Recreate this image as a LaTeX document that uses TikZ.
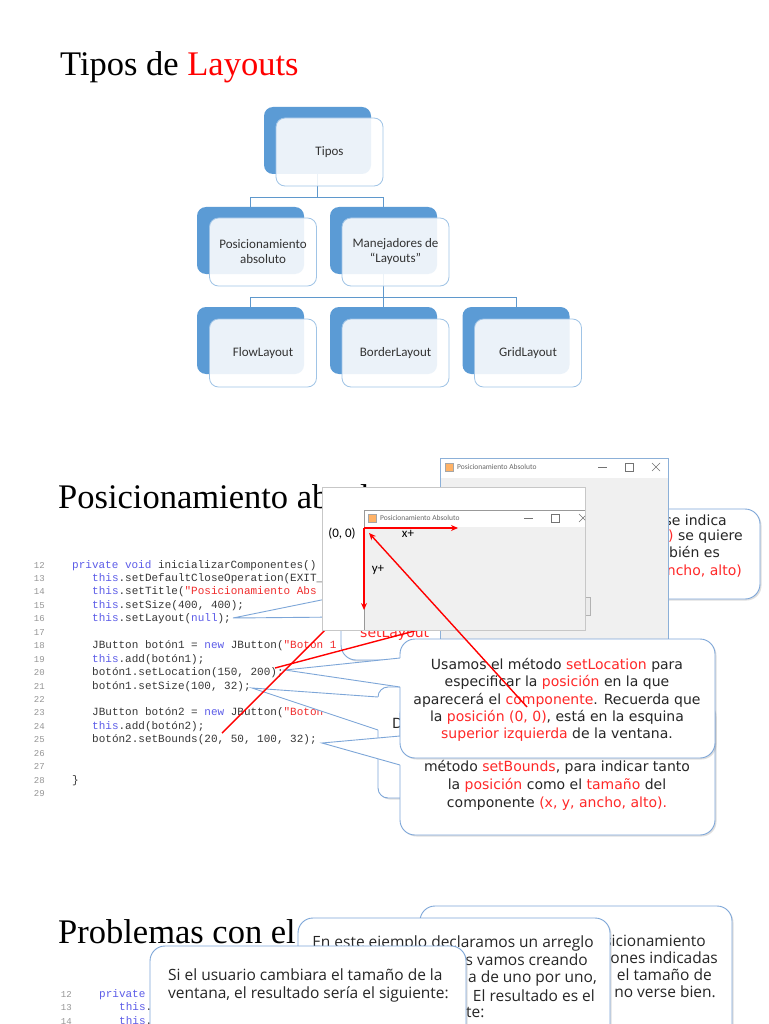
\documentclass[tikz,border=0pt]{standalone}
\usepackage{fontspec}
\setmainfont{Liberation Serif}
\newfontfamily\orgfont{Carlito}
\newfontfamily\codefont{Liberation Mono}
\newfontfamily\notefont{DejaVu Sans}
\newfontfamily\notefontb{Open Sans}
\usetikzlibrary{arrows.meta,shadows}

\definecolor{boxblue}{RGB}{91,155,213}
\definecolor{boxline}{RGB}{160,196,230}
\definecolor{calledge}{RGB}{125,166,216}
\definecolor{kwblue}{RGB}{92,92,232}
\definecolor{strred}{RGB}{240,45,45}
\definecolor{codegray}{RGB}{55,55,55}
\definecolor{numgray}{RGB}{150,150,150}
\definecolor{wingray}{RGB}{240,240,240}
\definecolor{winedge}{RGB}{140,176,216}
\definecolor{notered}{RGB}{255,40,40}

\newcommand\codekw[1]{\textcolor{kwblue}{#1}}
\newcommand\codestr[1]{\textcolor{strred}{#1}}
\newcommand\hl[1]{\textcolor{notered}{#1}}
% pointer of a callout: tip x, tip y, edge x, upper y, lower y
\newcommand\callptr[5]{%
  \fill[white] (#1,#2) -- (#3,#4) -- ({#3+2},#4) -- ({#3+2},#5) -- (#3,#5) -- cycle;
  \draw[ptrline] (#3,#4) -- (#1,#2) -- (#3,#5);}

\tikzset{
  backbox/.style={fill=boxblue, rounded corners=9pt, minimum width=107pt, minimum height=67pt, inner sep=0pt, outer sep=0pt},
  frontbox/.style={fill=white, fill opacity=0.88, text opacity=1, draw=boxline, line width=0.8pt,
    rounded corners=9pt, minimum width=107pt, minimum height=68pt, inner sep=0pt, align=center,
    font=\orgfont\fontsize{13}{15}\selectfont, text=black!80},
  orgline/.style={draw=boxblue!90!gray, line width=0.8pt},
  slidetitle/.style={anchor=base west, inner sep=0pt, font=\fontsize{34.5}{40}\selectfont},
  codeline/.style={anchor=base west, inner sep=0pt, text=codegray, font=\codefont\fontsize{11}{13}\selectfont},
  linenum/.style={anchor=base east, inner sep=0pt, text=numgray, font=\codefont\fontsize{9}{11}\selectfont},
  callbox/.style={fill=white, draw=calledge, line width=0.9pt, rounded corners=15pt,
    drop shadow={opacity=0.25, shadow xshift=1.5pt, shadow yshift=-1.5pt}},
  ptrline/.style={draw=calledge, line width=0.9pt},
  notetext/.style={anchor=base, inner sep=0pt, text=black!85, font=\notefont\fontsize{14}{17}\selectfont},
  notetextb/.style={anchor=base, inner sep=0pt, text=black!85, font=\notefontb\fontsize{15.5}{18}\selectfont},
  wintitle/.style={anchor=west, inner sep=0pt, text=black!60, font=\orgfont\fontsize{7.5}{9}\selectfont},
  winglyph/.style={draw=black!55, line width=0.6pt},
  axislabel/.style={inner sep=0pt, font=\orgfont\fontsize{13}{15}\selectfont},
  redarrow/.style={draw=red, line width=1.4pt, -{Stealth[length=7pt,width=6pt]}},
  redline/.style={draw=red, line width=1.4pt}
}

\begin{document}
\begin{tikzpicture}[x=1pt,y=-1pt]
\useasboundingbox (0,0) rectangle (768,1024);
\fill[white] (0,0) rectangle (768,1024);

% slide 1: tipos de layouts
\node[slidetitle] (title1) at (60,76) {Tipos de \textcolor{red}{Layouts}};

\node[backbox] (tiposB) at (317.5,140.5) {};
\node[backbox] (posB) at (250.5,240.5) {};
\node[backbox] (manB) at (383.5,240.5) {};
\node[backbox] (flowB) at (250.5,340.5) {};
\node[backbox] (borderB) at (383.5,340.5) {};
\node[backbox] (gridB) at (516,340.5) {};

\draw[orgline] (tiposB.south) -- ++(0,23) -| (posB.north);
\draw[orgline] (tiposB.south) -- ++(0,23) -| (manB.north);
\draw[orgline] (manB.south) -- ++(0,23) -| (flowB.north);
\draw[orgline] (manB.south) -- ++(0,23) -| (borderB.north);
\draw[orgline] (manB.south) -- ++(0,23) -| (gridB.north);

\node[frontbox] (tipos) at (329.5,152) {Tipos};
\node[frontbox] (posabs) at (263,252) {Posicionamiento\\absoluto};
\node[frontbox] (manej) at (395.5,252) {Manejadores de\\“Layouts”};
\node[frontbox] (flow) at (263,353) {FlowLayout};
\node[frontbox] (border) at (395.5,353) {BorderLayout};
\node[frontbox] (grid) at (528,353) {GridLayout};

% slide 2: posicionamiento absoluto
\node[slidetitle] (title2) at (58,508) {Posicionamiento absoluto};

\foreach \n [count=\i from 0] in {12,...,29}
  \node[linenum] (ln\n) at (45,{568+13.45*\i}) {\n};
\node[codeline] (c12) at (72,568) {\codekw{private void} inicializarComponentes()};
\node[codeline] (c13) at (92,581.45) {\codekw{this}.setDefaultCloseOperation(EXIT\_};
\node[codeline] (c14) at (92,594.9) {\codekw{this}.setTitle(\codestr{"Posicionamiento Abs}};
\node[codeline] (c15) at (92,608.35) {\codekw{this}.setSize(400, 400);};
\node[codeline] (c16) at (92,621.8) {\codekw{this}.setLayout(\codekw{null});};
\node[codeline] (c18) at (92,648.7) {JButton botón1 = \codekw{new} JButton(\codestr{"Boton 1}};
\node[codeline] (c19) at (92,662.15) {\codekw{this}.add(botón1);};
\node[codeline] (c20) at (92,675.6) {botón1.setLocation(150, 200);};
\node[codeline] (c21) at (92,689.05) {botón1.setSize(100, 32);};
\node[codeline] (c23) at (92,715.95) {JButton botón2 = \codekw{new} JButton(\codestr{"Boton}};
\node[codeline] (c24) at (92,729.4) {\codekw{this}.add(botón2);};
\node[codeline] (c25) at (92,742.85) {botón2.setBounds(20, 50, 100, 32);};
\node[codeline] (c28) at (72,783.2) {\}};

% callout behind the first window
\draw[callbox] (560,509) rectangle (760,599);
\node[notetext, anchor=base east] (b1) at (727,525) {se indica};
\node[notetext, anchor=base east] (b2) at (743,540) {\hl{)} se quiere};
\node[notetext, anchor=base east] (b3) at (720,557) {bién es};
\node[notetext, anchor=base east] (b4) at (742,575) {\hl{ancho, alto)}};

% setLayout callout
\draw[callbox] (341,545) rectangle (640,660);
\callptr{233}{618}{341}{596}{617}
\node[notetext, anchor=base west] (a1) at (360,637) {\hl{setLayout}};

% big window
\fill[wingray] (440,458) rectangle (668,650);
\fill[white] (440,458) rectangle (668,478);
\draw[winedge, line width=0.7pt] (440,458) rectangle (668,650);
\filldraw[fill=orange!60, draw=black!35, line width=0.4pt] (445,463) rectangle (453,471);
\node[wintitle] (w1title) at (457,467) {Posicionamiento Absoluto};
\draw[winglyph] (598,467) -- (607,467);
\draw[winglyph] (625,463) rectangle (633,471);
\draw[winglyph] (652,463) -- (660,471) (652,471) -- (660,463);
\filldraw[fill=black!8, draw=black!30, line width=0.5pt] (570,597) rectangle (590,615);

% setSize callout (only its edge shows)
\draw[callbox, rounded corners=10pt] (378,687) rectangle (690,798);
\callptr{252}{688}{378}{697}{730}
\node[notetext, anchor=base west] (d1) at (392,728) {D};

% setBounds callout
\draw[callbox] (400,700) rectangle (715,835);
\callptr{322}{743}{400}{736}{765}
\node[notetext] (el1) at (557,771) {método \hl{setBounds}, para indicar tanto};
\node[notetext] (el2) at (557,789) {la \hl{posición} como el \hl{tamaño} del};
\node[notetext] (el3) at (557,807) {componente \hl{(x, y, ancho, alto).}};

% setLocation callout
\draw[callbox] (400,639) rectangle (715,758);
\callptr{285}{670}{400}{658}{687}
\node[notetext] (cl1) at (557,669) {Usamos el método \hl{setLocation} para};
\node[notetext] (cl2) at (557,686) {especificar la \hl{posición} en la que};
\node[notetext] (cl3) at (557,704) {aparecerá el \hl{componente}. Recuerda que};
\node[notetext] (cl4) at (557,721) {la \hl{posición (0, 0)}, está en la esquina};
\node[notetext] (cl5) at (557,738) {\hl{superior izquierda} de la ventana.};

% red lines from the code
\draw[redline] (222,733) -- (326,629);
\draw[redline] (275,668) -- (422,629);

% small window with the axes
\filldraw[fill=white, draw=black!22, line width=0.6pt] (322,487) rectangle (585,630);
\fill[wingray] (364,510) rectangle (585,630);
\fill[white] (364,510) rectangle (585,527);
\draw[black!40, line width=0.6pt] (585,510) -- (364,510) -- (364,630);
\filldraw[fill=orange!60, draw=black!35, line width=0.4pt] (368,514) rectangle (376,522);
\node[wintitle] (w2title) at (380,518) {Posicionamiento Absoluto};
\draw[winglyph] (524,518) -- (533,518);
\draw[winglyph] (551,514) rectangle (559,522);
\begin{scope}
  \clip (364,510) rectangle (585,630);
  \draw[winglyph] (579,514) -- (587,522) (579,522) -- (587,514);
\end{scope}
\node[axislabel] (origin) at (342,534) {(0, 0)};
\node[axislabel] (xlabel) at (408,534) {x+};
\node[axislabel] (ylabel) at (378,570) {y+};
\coordinate (o) at (364,528);
\coordinate (xend) at (458,528);
\coordinate (yend) at (364,610);
\draw[redarrow] (o) -- (xend);
\draw[redarrow] (o) -- (yend);
\coordinate (comp) at (527,707);
\coordinate (corner) at (369,533);
\draw[redarrow] (comp) -- (corner);

% slide 3: problemas
\node[slidetitle] (title3) at (58,943) {Problemas con el};
\node[linenum] (m12) at (72,997) {12};
\node[linenum] (m13) at (72,1010.5) {13};
\node[linenum] (m14) at (72,1024) {14};
\node[codeline] (d12) at (99,997) {\codekw{private}};
\node[codeline] (d13) at (119,1010.5) {\codekw{this}.};
\node[codeline] (d14) at (119,1024) {\codekw{this}.};

\draw[callbox] (420,906) rectangle (732,1060);
\node[notetextb, anchor=base east] (g1) at (706,946) {sicionamiento};
\node[notetextb, anchor=base east] (g2) at (718,963) {iones indicadas};
\node[notetextb, anchor=base east] (g3) at (712,980) {el tamaño de};
\node[notetextb, anchor=base east] (g4) at (716,997) {no verse bien.};

\draw[callbox] (298,918) rectangle (610,1060);
\node[notetextb] (f1) at (453,947) {En este ejemplo declaramos un arreglo};
\node[notetextb, anchor=base east] (f2) at (588,965) {os vamos creando};
\node[notetextb, anchor=base east] (f3) at (597,982) {a de uno por uno,};
\node[notetextb, anchor=base east] (f4) at (595,1001) {El resultado es el};
\node[notetextb, anchor=base west] (f5) at (466,1017) {te:};

\draw[callbox] (150,946) rectangle (466,1060);
\node[notetextb, anchor=base west] (h1) at (168,980) {Si el usuario cambiara el tamaño de la};
\node[notetextb, anchor=base west] (h2) at (168,998) {ventana, el resultado sería el siguiente:};
\end{tikzpicture}
\end{document}
